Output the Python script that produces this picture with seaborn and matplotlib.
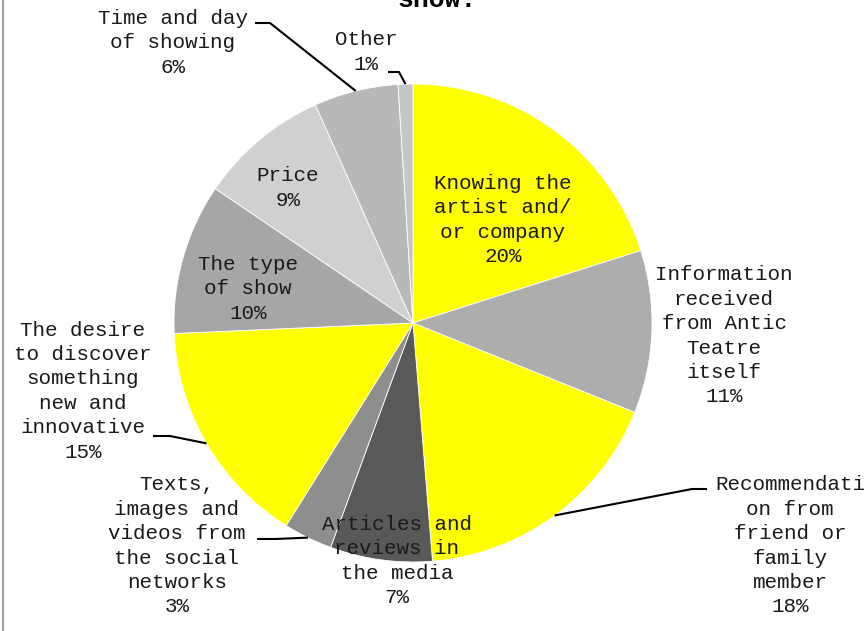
import matplotlib
matplotlib.use('Agg')
import matplotlib.pyplot as plt
import seaborn as sns
import numpy as np
from matplotlib.lines import Line2D

# reasons for coming to the show, clockwise from 12 o'clock
labels = [
    "Knowing the\nartist and/\nor company",
    "Information\nreceived\nfrom Antic\nTeatre\nitself",
    "Recommendati\non from\nfriend or\nfamily\nmember",
    "Articles and\nreviews in\nthe media",
    "Texts,\nimages and\nvideos from\nthe social\nnetworks",
    "The desire\nto discover\nsomething\nnew and\ninnovative",
    "The type\nof show",
    "Price",
    "Time and day\nof showing",
    "Other",
]
shares = [20.1, 11.0, 17.6, 6.9, 3.3, 15.4, 10.2, 8.8, 5.7, 1.0]
colors = ["#FFFF00", "#ADADAD", "#FFFF00", "#595959", "#8E8E8E",
          "#FFFF00", "#A6A6A6", "#D0D0D0", "#B8B8B8", "#C6C6C6"]

sns.set_style("white")
plt.rcParams['font.family'] = ['Liberation Mono', 'DejaVu Sans']

W, H = 868, 631
CX, CY, R = 413, 323, 239

fig = plt.figure(figsize=(W / 100, H / 100), dpi=100)
ax = fig.add_axes([(CX - R) / W, (H - CY - R) / H, 2 * R / W, 2 * R / H])


def px(x, y):
    return (x - CX) / R, (CY - y) / R


wedges, _ = ax.pie(shares, colors=colors, startangle=90, counterclock=False,
                   radius=1, wedgeprops=dict(edgecolor='white', linewidth=0.6))
ax.set_xlim(-1, 1)
ax.set_ylim(-1, 1)
ax.set_aspect('equal')
ax.axis('off')

# label centres in pixels
label_pos = [(503, 220), (724, 336), (790, 546), (397, 561), (177, 546),
             (83, 391), (248, 289), (288, 188), (173, 43), (366, 52)]

for name, v, (lx, ly) in zip(labels, shares, label_pos):
    x, y = px(lx, ly)
    ax.text(x, y, f"{name}\n{v:.0f}%", ha='center', va='center',
            fontsize=15, color='#1a1a1a', linespacing=1.36, clip_on=False)

# leader lines: (slice index, elbow, end) in pixels
leaders = [
    (2, (692, 489), (707, 489)),
    (4, (275, 539), (257, 539)),
    (5, (170, 436), (153, 436)),
    (8, (270, 23), (255, 23)),
    (9, (399, 72), (388, 72)),
]
for i, elbow, end in leaders:
    w = wedges[i]
    mid = np.deg2rad((w.theta1 + w.theta2) / 2)
    ex, ey = np.cos(mid), np.sin(mid)
    bx, by = px(*elbow)
    tx, ty = px(*end)
    ax.plot([ex, bx, tx], [ey, by, ty], color='black', lw=1.5,
            clip_on=False, solid_capstyle='butt')

fig.text(437 / W, 1 - 7 / H, "show.", ha='center', va='baseline',
         fontsize=19, fontweight='bold', color='black')
fig.add_artist(Line2D([2.5 / W, 2.5 / W], [0, 1], color='#A0A0A0', lw=1.5))

fig.savefig("out.png", dpi=100)
